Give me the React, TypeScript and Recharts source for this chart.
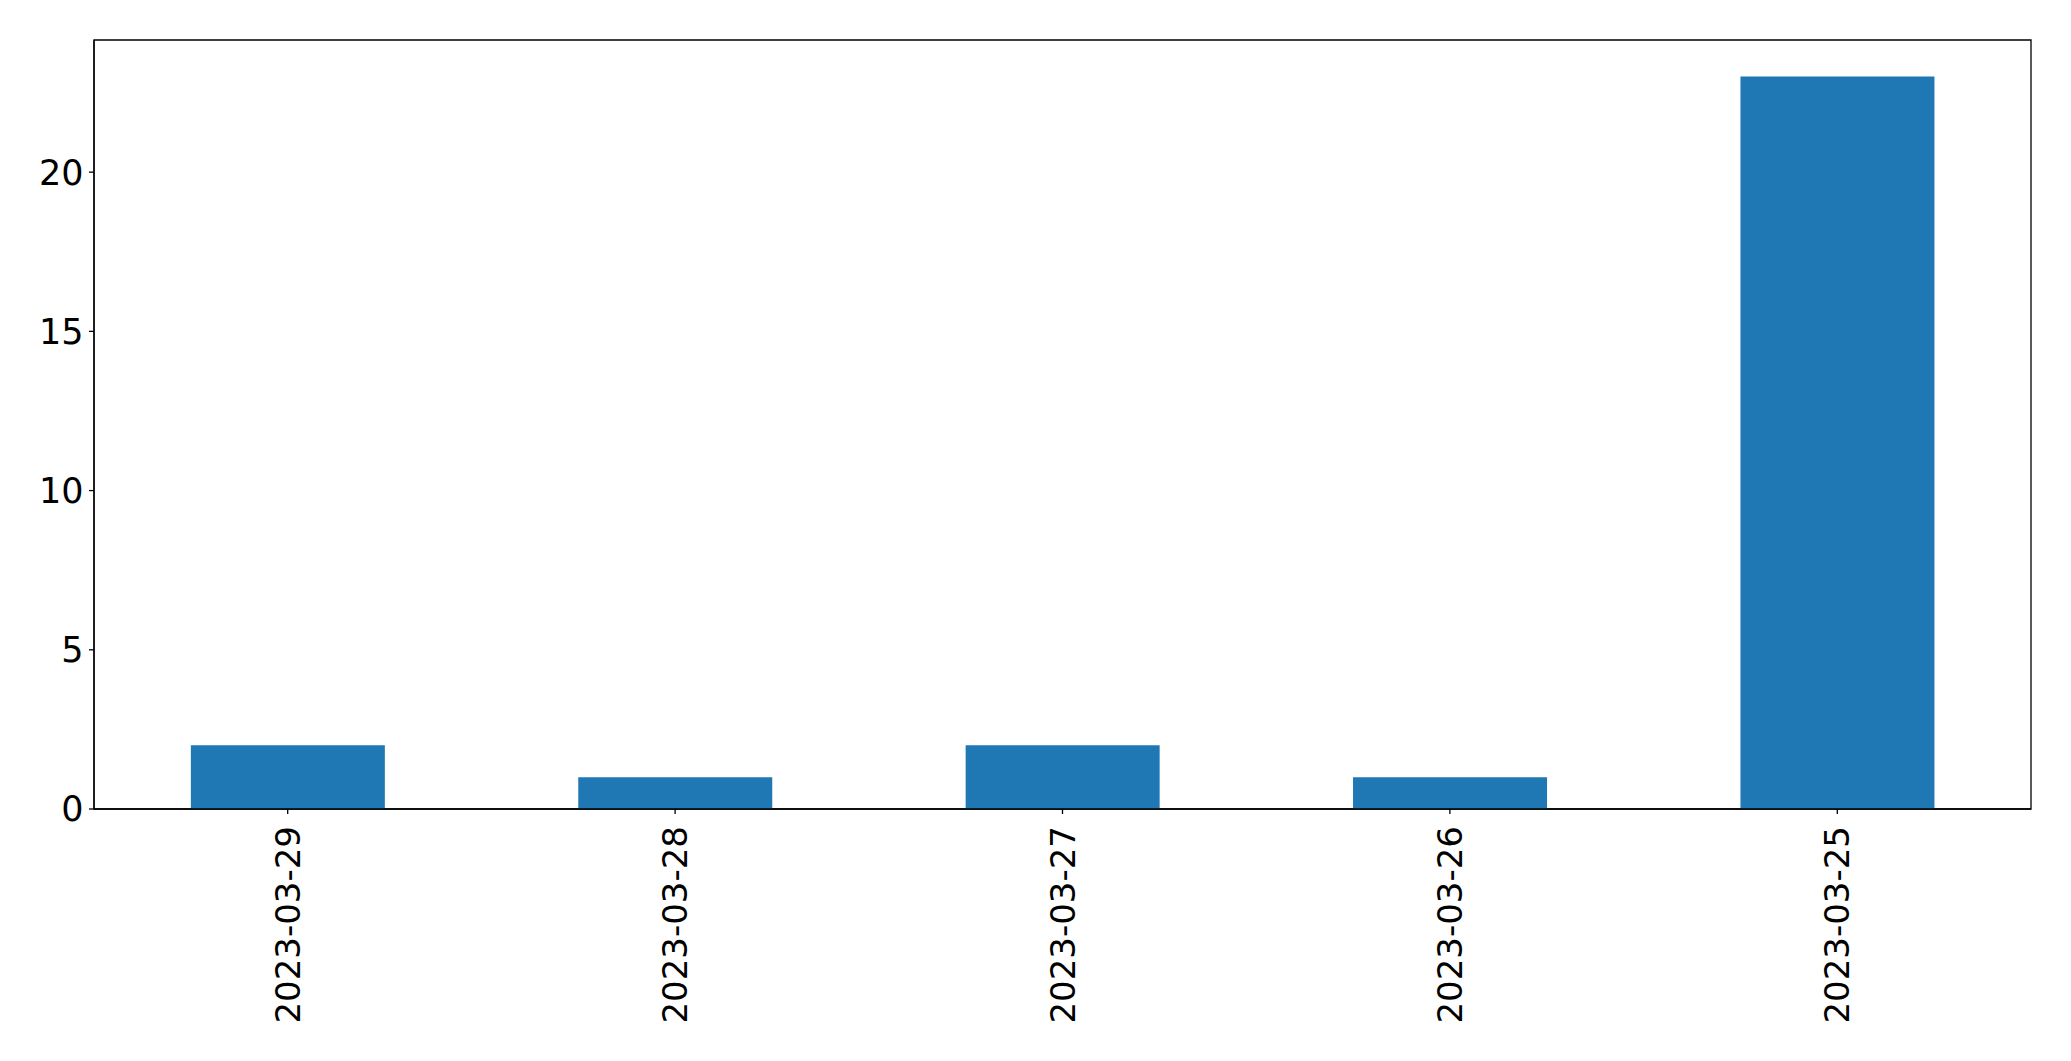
import React from "react";
import { BarChart, Bar, XAxis, YAxis, ReferenceArea } from "recharts";

const categories = ["2023-03-29", "2023-03-28", "2023-03-27", "2023-03-26", "2023-03-25"];
const counts = [2, 1, 2, 1, 23];
const yTicks = [0, 5, 10, 15, 20];
const yMax = 24.15;

const data = categories.map((c, i) => ({ date: c, count: counts[i] }));

const FONT = "'DejaVu Sans', sans-serif";

const XTick = (props: any) => {
  const { x, y, payload } = props;
  return (
    <text
      transform={`translate(${x},${y + 12}) rotate(-90)`}
      textAnchor="end"
      dominantBaseline="central"
      fontFamily={FONT}
      fontSize={34}
      fill="#000"
    >
      {payload.value}
    </text>
  );
};

export default function App() {
  return (
    <div style={{ position: "absolute", left: 0, top: 0, background: "#fff" }}>
      <BarChart
        width={2071}
        height={1061}
        data={data}
        margin={{ top: 40, right: 40, left: 0, bottom: 0 }}
        barCategoryGap="25%"
      >
        <XAxis
          dataKey="date"
          tick={<XTick />}
          tickSize={5}
          tickMargin={0}
          height={252}
          interval={0}
          axisLine={{ stroke: "#000", strokeWidth: 1.3 }}
          tickLine={{ stroke: "#000", strokeWidth: 1.3 }}
        />
        <YAxis
          width={94}
          domain={[0, yMax]}
          ticks={yTicks}
          tickSize={5}
          tickMargin={5.5}
          tick={{ fontFamily: FONT, fontSize: 35, fill: "#000" }}
          axisLine={{ stroke: "#000", strokeWidth: 1.3 }}
          tickLine={{ stroke: "#000", strokeWidth: 1.3 }}
          allowDataOverflow
        />
        <Bar dataKey="count" fill="#1f77b4" isAnimationActive={false} />
        <ReferenceArea
          y1={0}
          y2={yMax}
          fill="none"
          stroke="#000"
          strokeWidth={1.3}
          ifOverflow="visible"
        />
      </BarChart>
    </div>
  );
}
